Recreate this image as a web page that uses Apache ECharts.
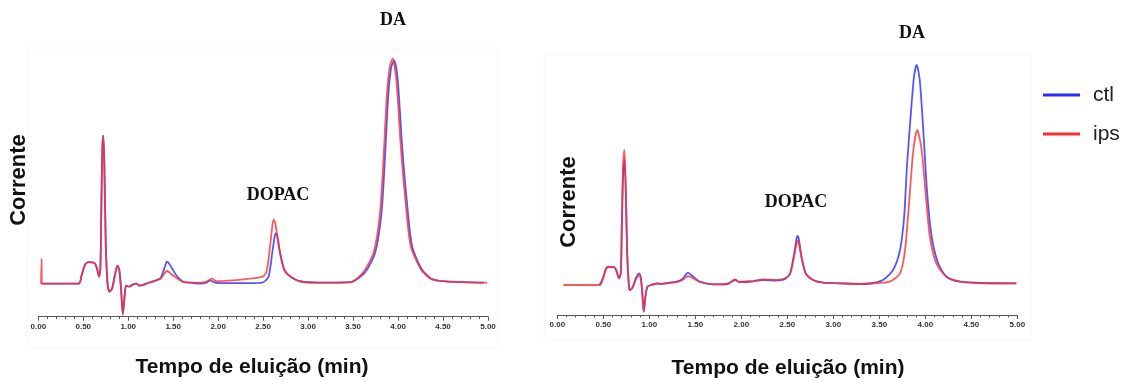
<!DOCTYPE html>
<html>
<head>
<meta charset="utf-8">
<script src="https://cdn.jsdelivr.net/npm/echarts@6/dist/echarts.min.js"></script>
<style>
  html, body { margin: 0; padding: 0; background: #fff; }
  #chart { width: 1128px; height: 381px; }
</style>
</head>
<body>
<div id="chart"></div>
<script>
// tick labels on the time axis (min)
const xTicks = [0, 0.5, 1, 1.5, 2, 2.5, 3, 3.5, 4, 4.5, 5];
const seriesNames = ["ctl", "ips"];

// left chromatogram: [time (min), current (a.u.)]
const leftCtl = [
  [0.03, 0], [0.45, 0], [0.48, 8], [0.52, 19], [0.56, 21.5], [0.62, 21], [0.65, 16], [0.675, 7],
  [0.69, 15], [0.70, 70], [0.712, 135], [0.723, 148], [0.735, 120], [0.75, 40], [0.77, 0],
  [0.79, -8], [0.82, -5], [0.85, 8], [0.88, 18], [0.90, 14], [0.92, -5], [0.94, -31], [0.96, -12],
  [0.976, -2], [1.01, -3], [1.05, -1], [1.09, 0], [1.13, -2], [1.2, 0], [1.3, 3], [1.36, 6],
  [1.4, 15], [1.43, 22], [1.47, 18], [1.53, 9], [1.61, 2], [1.7, 1], [1.8, 0], [1.87, 1],
  [1.91, 3.3], [1.95, 1.5], [2.0, 0.5], [2.2, 0.5], [2.4, 0.6], [2.5, 1.5], [2.56, 7], [2.6, 30],
  [2.63, 48], [2.645, 50.6], [2.66, 47], [2.69, 30], [2.74, 13], [2.84, 5], [2.95, 1.7], [3.2, 1],
  [3.47, 1.5], [3.63, 11], [3.745, 31], [3.815, 70], [3.855, 127], [3.89, 187], [3.925, 217],
  [3.957, 223], [3.995, 205], [4.045, 138], [4.095, 85], [4.155, 38], [4.26, 15], [4.37, 5],
  [4.53, 2.3], [4.95, 1]
];
const leftIps = [
  [0.03, 0], [0.035, 0], [0.037, 25], [0.039, 0], [0.45, 0], [0.48, 8], [0.52, 19], [0.56, 21.5],
  [0.62, 21], [0.65, 16], [0.675, 7], [0.69, 15], [0.70, 70], [0.712, 135], [0.722, 148],
  [0.733, 120], [0.75, 40], [0.77, 0], [0.79, -8], [0.82, -5], [0.85, 8], [0.88, 18], [0.90, 14],
  [0.92, -5], [0.94, -30], [0.96, -12], [0.976, -2], [1.01, -3], [1.05, -1], [1.09, 0],
  [1.13, -2], [1.2, 0], [1.3, 3], [1.36, 5], [1.43, 12.7], [1.5, 8], [1.6, 2], [1.7, 1], [1.8, 1],
  [1.87, 2], [1.93, 5], [1.98, 2.5], [2.1, 3], [2.2, 3.5], [2.35, 5], [2.5, 7.3], [2.54, 13],
  [2.58, 40], [2.605, 60], [2.62, 64], [2.64, 58], [2.66, 45], [2.69, 30], [2.74, 13], [2.84, 5],
  [2.95, 1.7], [3.2, 1], [3.47, 1.5], [3.615, 11.7], [3.73, 31.7], [3.80, 71.7], [3.84, 128],
  [3.875, 188], [3.91, 218], [3.94, 225], [3.98, 205], [4.03, 138], [4.08, 85], [4.14, 38],
  [4.25, 15], [4.36, 5], [4.53, 2.3], [4.99, 1]
];

// right chromatogram
const rightCtl = [
  [0.46, 0], [0.5, 8], [0.53, 16.7], [0.56, 18.3], [0.62, 18], [0.645, 14], [0.67, 6.7],
  [0.69, 12], [0.70, 50], [0.715, 110], [0.73, 125], [0.745, 90], [0.76, 30], [0.78, -3],
  [0.79, -5], [0.82, -2], [0.86, 8], [0.89, 11.7], [0.91, 6], [0.925, -10], [0.94, -26.7],
  [0.96, -10], [0.98, -1.7], [1.02, 0], [1.06, 1], [1.09, 1.5], [1.12, 1], [1.2, 2], [1.3, 3.3],
  [1.36, 6], [1.42, 12.3], [1.47, 9], [1.55, 3.3], [1.7, 0.7], [1.85, 1], [1.93, 5], [1.98, 3],
  [2.1, 3.5], [2.24, 5], [2.38, 4.5], [2.475, 6], [2.53, 11.7], [2.575, 31.7], [2.6, 46],
  [2.61, 49], [2.625, 46], [2.655, 28.3], [2.70, 11.7], [2.78, 5], [2.89, 2.3], [3.07, 1.7],
  [3.29, 1], [3.4, 1.5], [3.54, 5], [3.65, 15], [3.725, 35], [3.77, 68], [3.80, 118],
  [3.84, 168], [3.877, 208], [3.906, 220], [3.94, 205], [3.98, 152], [4.02, 92], [4.07, 48],
  [4.14, 21.7], [4.23, 8.3], [4.38, 3.3], [4.6, 2], [4.99, 1.7]
];
const rightIps = [
  [0.065, 0], [0.46, 0], [0.5, 7], [0.53, 16], [0.56, 18], [0.62, 17.5], [0.645, 13], [0.67, 6.7],
  [0.69, 12], [0.70, 55], [0.715, 120], [0.73, 135], [0.745, 95], [0.76, 30], [0.78, -3],
  [0.79, -5], [0.82, -2], [0.86, 7], [0.89, 10], [0.91, 5], [0.925, -10], [0.94, -26.7],
  [0.96, -10], [0.98, -1.7], [1.02, 0], [1.06, 1], [1.09, 1.5], [1.12, 1], [1.2, 2], [1.3, 3],
  [1.36, 5], [1.42, 9], [1.47, 7], [1.55, 3], [1.7, 0.7], [1.85, 1], [1.93, 5.7], [1.98, 3],
  [2.1, 3.5], [2.24, 5.7], [2.38, 5], [2.475, 6.7], [2.53, 11], [2.575, 29], [2.6, 41],
  [2.612, 44.3], [2.625, 42], [2.655, 27], [2.70, 11.7], [2.78, 5], [2.89, 2.3], [3.07, 1.7],
  [3.29, 1], [3.4, 1.5], [3.61, 3.3], [3.725, 11.7], [3.78, 35], [3.826, 85], [3.87, 135],
  [3.913, 155], [3.96, 135], [4.01, 85], [4.05, 48], [4.12, 21.7], [4.23, 8.3], [4.38, 3.3],
  [4.6, 2], [4.99, 1.7]
];

const blue = "#2b2bff";
const red = "#ff2e2e";
const sans = "'Liberation Sans', Arial, sans-serif";
const serif = "'Liberation Serif', 'Times New Roman', serif";

const chart = echarts.init(document.getElementById("chart"));

function timeAxis(gridIndex) {
  return {
    gridIndex: gridIndex,
    type: "value",
    min: 0,
    max: 5,
    interval: 0.5,
    splitLine: { show: false },
    axisLine: { show: true, onZero: false, lineStyle: { color: "#5a5a5a", width: 1 } },
    axisTick: { show: true, length: 4, lineStyle: { color: "#5a5a5a" } },
    minorTick: { show: true, splitNumber: 5, length: 2.5, lineStyle: { color: "#5a5a5a" } },
    axisLabel: {
      show: true,
      margin: 6,
      fontSize: 8,
      fontWeight: "bold",
      fontFamily: sans,
      color: "#333",
      showMinLabel: true,
      showMaxLabel: true,
      formatter: (v) => (xTicks.indexOf(v) >= 0 ? v.toFixed(2) : ""),
    },
  };
}

function currentAxis(gridIndex, min, max) {
  return { gridIndex: gridIndex, type: "value", min: min, max: max, show: false };
}

function trace(name, data, color, idx) {
  return {
    name: name,
    type: "line",
    xAxisIndex: idx,
    yAxisIndex: idx,
    data: data,
    showSymbol: false,
    smooth: 0.25,
    color: color,
    lineStyle: { color: color, width: 1.8, opacity: 0.8 },
    silent: true,
  };
}

function label(text, x, y, font, size, weight, rotation) {
  return {
    type: "text",
    x: x,
    y: y,
    rotation: rotation || 0,
    style: {
      text: text,
      fontFamily: font,
      fontSize: size,
      fontWeight: weight,
      fill: "#111",
      textAlign: "center",
      textVerticalAlign: "middle",
    },
  };
}

const option = {
  animation: false,
  backgroundColor: "#fff",
  grid: [
    { left: 38.3, top: 43.7, width: 449.7, height: 273 },
    { left: 557.3, top: 45, width: 460, height: 270 },
  ],
  xAxis: [timeAxis(0), timeAxis(1)],
  yAxis: [currentAxis(0, -33, 240), currentAxis(1, -30, 240)],
  legend: {
    data: seriesNames,
    orient: "vertical",
    left: 1038,
    top: 79.5,
    icon: "rect",
    itemWidth: 37,
    itemHeight: 3,
    itemGap: 18,
    textStyle: { fontSize: 21, lineHeight: 21, fontFamily: sans, color: "#222", padding: [0, 0, 0, 8] },
  },
  graphic: [
    { type: "rect", shape: { x: 27, y: 48, width: 471, height: 300 }, style: { fill: "none", stroke: "#f6f6f6" } },
    { type: "rect", shape: { x: 544, y: 55, width: 487, height: 285 }, style: { fill: "none", stroke: "#f6f6f6" } },
    label("DA", 393, 20, serif, 18, "bold"),
    label("DOPAC", 278, 195, serif, 18, "bold"),
    label("DA", 912, 33, serif, 18, "bold"),
    label("DOPAC", 796, 202, serif, 18, "bold"),
    label("Tempo de eluição (min)", 252, 367, sans, 21, "bold"),
    label("Tempo de eluição (min)", 788, 368, sans, 21, "bold"),
    label("Corrente", 19, 180, sans, 22, "bold", Math.PI / 2),
    label("Corrente", 569, 202, sans, 22, "bold", Math.PI / 2),
  ],
  series: [
    trace("ctl", leftCtl, blue, 0),
    trace("ips", leftIps, red, 0),
    trace("ctl", rightCtl, blue, 1),
    trace("ips", rightIps, red, 1),
  ],
};

chart.setOption(option);
</script>
</body>
</html>
